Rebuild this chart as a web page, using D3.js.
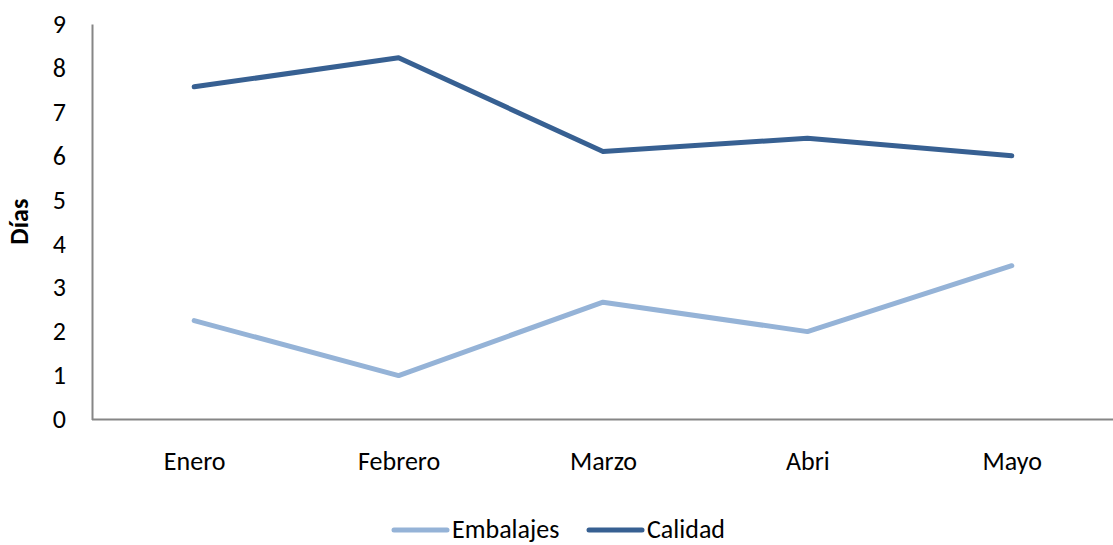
<!DOCTYPE html>
<html>
<head>
<meta charset="utf-8">
<script src="https://cdn.jsdelivr.net/npm/d3@7"></script>
<style>
  html, body { margin: 0; padding: 0; background: #fff; }
  svg { display: block; font-family: Carlito, Calibri, Lato, "Open Sans", sans-serif; }
</style>
</head>
<body>
<svg id="chart" width="1113" height="545"></svg>
<script>
const months = ["Enero", "Febrero", "Marzo", "Abri", "Mayo"];
const embalajes = [2.25, 1.0, 2.67, 2.0, 3.5];
const calidad = [7.57, 8.23, 6.1, 6.4, 6.0];
const yTicks = [0, 1, 2, 3, 4, 5, 6, 7, 8, 9];

const series = [
  { name: "Embalajes", values: embalajes, color: "#95B3D7" },
  { name: "Calidad", values: calidad, color: "#376092" }
];

const FONT = "Carlito, Calibri, Lato, sans-serif";
const svg = d3.select("#chart");
const plotLeft = 92, plotRight = 1114, plotTop = 24, plotBottom = 419.5;

const x = d3.scalePoint().domain(months).range([plotLeft, plotRight]).padding(0.5);
const y = d3.scaleLinear().domain([0, 9]).range([plotBottom, plotTop]);

// y axis: labels only, plus the vertical rule
const yAxis = svg.append("g")
  .attr("transform", `translate(${plotLeft},0)`)
  .call(d3.axisLeft(y).tickValues(yTicks).tickSize(0).tickPadding(26).tickFormat(d3.format("d")));
yAxis.select(".domain").attr("stroke", "#868686").attr("stroke-width", 2);
yAxis.selectAll("text").attr("font-size", 26).attr("fill", "#000").attr("font-family", FONT);

// x axis
const xAxis = svg.append("g")
  .attr("transform", `translate(0,${plotBottom})`)
  .call(d3.axisBottom(x).tickSize(0).tickPadding(32));
xAxis.select(".domain").attr("stroke", "#868686").attr("stroke-width", 2).attr("d", `M${plotLeft},0H${plotRight}`);
xAxis.selectAll("text").attr("font-size", 26).attr("fill", "#000").attr("font-family", FONT);

// axis title
svg.append("text")
  .attr("transform", `translate(28,${(plotTop + plotBottom) / 2}) rotate(-90)`)
  .attr("text-anchor", "middle")
  .attr("font-size", 26)
  .attr("font-weight", "bold")
  .text("Días");

// lines
const line = d3.line()
  .x((d, i) => x(months[i]))
  .y(d => y(d));

svg.selectAll("path.series")
  .data(series)
  .join("path")
  .attr("class", "series")
  .attr("fill", "none")
  .attr("stroke", d => d.color)
  .attr("stroke-width", 5)
  .attr("stroke-linecap", "round")
  .attr("stroke-linejoin", "round")
  .attr("d", d => line(d.values));

// legend
const legendItems = [
  { s: series[0], x0: 394 },
  { s: series[1], x0: 589 }
];
const legendY = 530;
const lg = svg.append("g");
legendItems.forEach(({ s, x0 }) => {
  lg.append("line")
    .attr("x1", x0).attr("x2", x0 + 53)
    .attr("y1", legendY).attr("y2", legendY)
    .attr("stroke", s.color).attr("stroke-width", 5).attr("stroke-linecap", "round");
  lg.append("text")
    .attr("x", x0 + 58).attr("y", legendY + 8)
    .attr("font-size", 26)
    .text(s.name);
});
</script>
</body>
</html>
